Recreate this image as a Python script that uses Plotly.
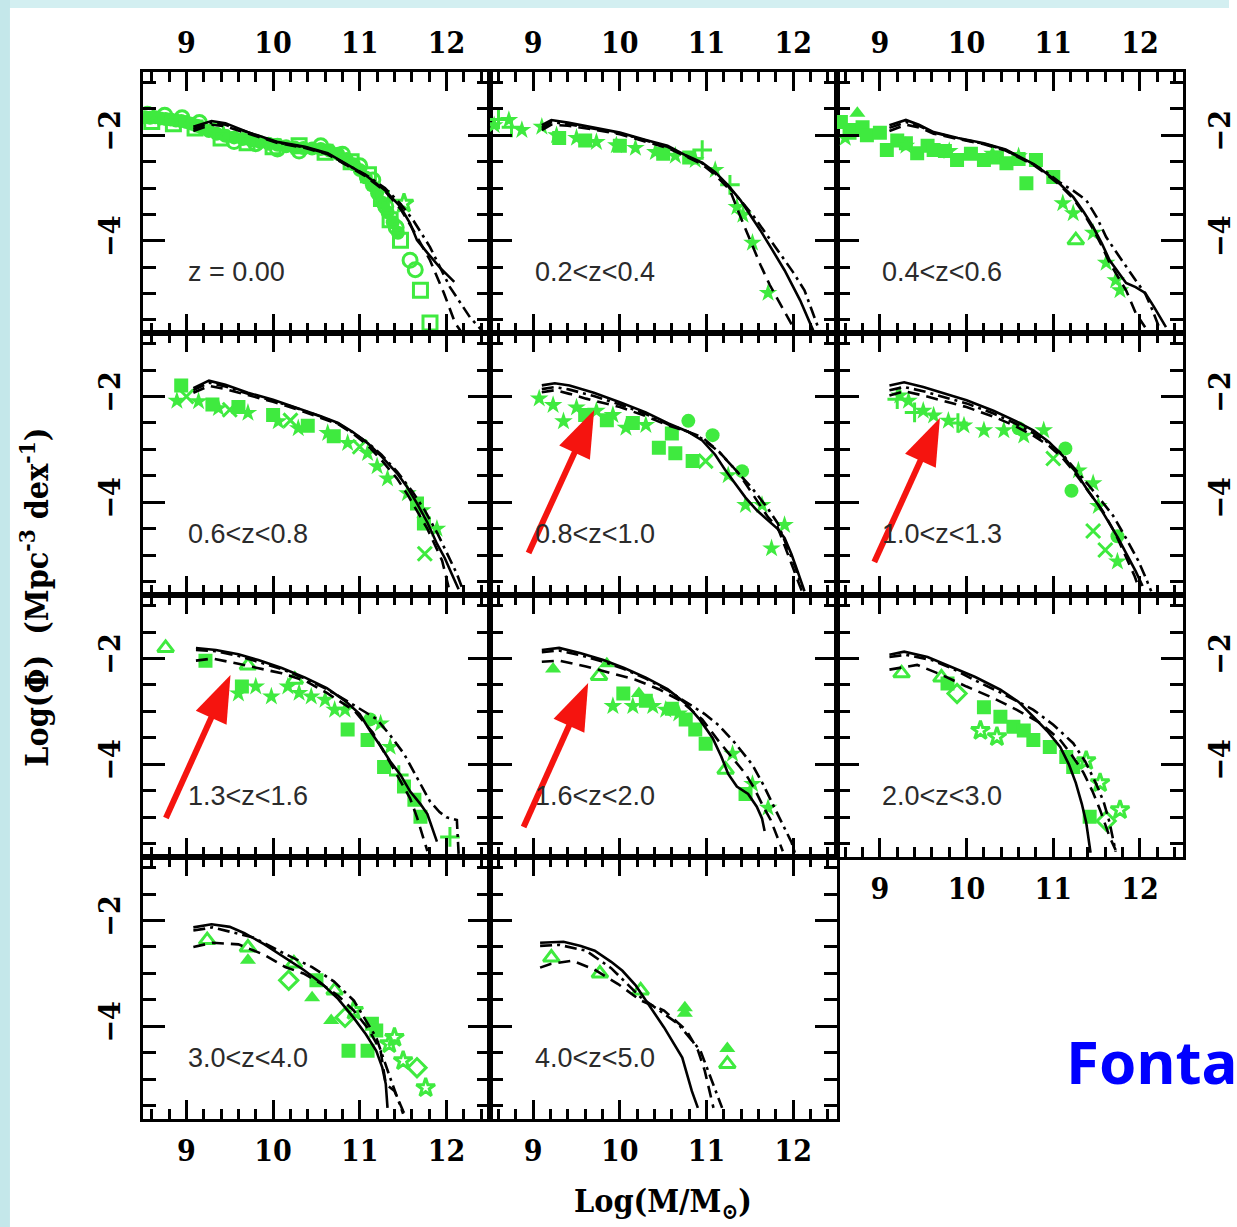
import math
import plotly.graph_objects as go

W, H = 1237, 1227

# ---------------- axis settings ----------------
X_RANGE = [8.5, 12.5]
Y_RANGE = [-5.75, -0.8]
X_TICK0, X_DTICK, X_MINOR = 9, 1, 0.2
Y_TICK0, Y_DTICK, Y_MINOR = 0, 2, 0.5

PANEL_LABELS = ["z = 0.00", "0.2<z<0.4", "0.4<z<0.6", "0.6<z<0.8", "0.8<z<1.0",
                "1.0<z<1.3", "1.3<z<1.6", "1.6<z<2.0", "2.0<z<3.0", "3.0<z<4.0",
                "4.0<z<5.0"]
LABEL_POS = (9.0, -4.6)

# ---------------- data: model curves (x = log M, y = log Phi) ----------------
P1_SOLID = ([9.08, 9.29, 9.45, 9.71, 10.06, 10.37, 10.63, 10.83, 11.06, 11.29, 11.47, 11.58, 11.66, 11.78, 11.93, 12.09],
            [-1.84, -1.73, -1.77, -1.94, -2.13, -2.22, -2.34, -2.53, -2.75, -3.04, -3.36, -3.67, -3.99, -4.23, -4.52, -4.78])
P1_DASH = ([9.08, 9.29, 9.45, 9.71, 10.06, 10.37, 10.63, 10.83, 11.06, 11.29, 11.47, 11.6, 11.81, 11.97, 12.1, 12.18],
           [-1.92, -1.8, -1.83, -1.97, -2.15, -2.24, -2.36, -2.55, -2.77, -3.06, -3.4, -3.75, -4.37, -4.99, -5.56, -5.75])
P1_DDOT = ([9.08, 9.29, 9.45, 9.71, 10.06, 10.37, 10.63, 10.83, 11.06, 11.29, 11.47, 11.62, 11.81, 12.04, 12.27, 12.42],
           [-1.88, -1.76, -1.8, -1.95, -2.14, -2.23, -2.35, -2.54, -2.74, -3.0, -3.3, -3.62, -4.12, -4.88, -5.45, -5.72])

P2_SOLID = ([9.1, 9.21, 9.4, 9.73, 10.0, 10.3, 10.55, 10.76, 10.95, 11.1, 11.25, 11.39, 11.5, 11.62, 11.75, 11.9, 12.08, 12.23],
            [-1.81, -1.71, -1.76, -1.86, -1.95, -2.09, -2.2, -2.38, -2.52, -2.7, -2.95, -3.23, -3.5, -3.8, -4.15, -4.56, -5.13, -5.7])
P2_DASH = ([9.1, 9.21, 9.4, 9.73, 10.0, 10.3, 10.55, 10.76, 10.95, 11.1, 11.27, 11.38, 11.5, 11.62, 11.73, 11.85, 11.96, 12.02],
           [-1.9, -1.8, -1.82, -1.9, -1.98, -2.12, -2.24, -2.4, -2.55, -2.75, -3.04, -3.5, -3.99, -4.45, -4.84, -5.2, -5.5, -5.7])
P2_DDOT = ([9.1, 9.21, 9.4, 9.73, 10.0, 10.3, 10.55, 10.76, 10.95, 11.1, 11.25, 11.4, 11.55, 11.7, 11.85, 12.0, 12.13, 12.3],
           [-1.86, -1.75, -1.79, -1.88, -1.96, -2.1, -2.22, -2.39, -2.53, -2.72, -2.97, -3.25, -3.55, -3.9, -4.25, -4.6, -4.94, -5.7])

P3_SOLID = ([9.11, 9.3, 9.45, 9.62, 9.9, 10.2, 10.45, 10.62, 10.78, 10.92, 11.08, 11.23, 11.35, 11.46, 11.56, 11.65, 11.75, 11.84, 11.95, 12.06, 12.16, 12.26, 12.3],
            [-1.81, -1.71, -1.8, -1.94, -2.05, -2.15, -2.27, -2.41, -2.55, -2.72, -2.93, -3.17, -3.45, -3.74, -4.05, -4.37, -4.6, -4.8, -4.88, -4.99, -5.25, -5.51, -5.64])
P3_DASH = ([9.11, 9.3, 9.45, 9.62, 9.9, 10.2, 10.45, 10.62, 10.78, 10.92, 11.08, 11.23, 11.35, 11.46, 11.56, 11.65, 11.75, 11.84, 11.95, 12.06],
           [-1.92, -1.8, -1.85, -1.97, -2.07, -2.17, -2.29, -2.43, -2.57, -2.74, -2.95, -3.2, -3.48, -3.78, -4.1, -4.42, -4.68, -4.94, -5.37, -5.64])
P3_DDOT = ([9.11, 9.3, 9.45, 9.62, 9.9, 10.2, 10.45, 10.62, 10.78, 10.92, 11.08, 11.23, 11.38, 11.5, 11.61, 11.72, 11.84, 11.95, 12.06, 12.14, 12.22],
           [-1.86, -1.75, -1.82, -1.95, -2.06, -2.16, -2.28, -2.42, -2.56, -2.7, -2.9, -3.05, -3.23, -3.55, -3.93, -4.2, -4.5, -4.75, -5.0, -5.3, -5.64])

P4_SOLID = ([9.08, 9.26, 9.45, 9.71, 10.0, 10.29, 10.55, 10.75, 10.92, 11.09, 11.25, 11.43, 11.55, 11.66, 11.78, 11.89, 11.98, 12.06, 12.14],
            [-1.84, -1.7, -1.78, -1.93, -2.06, -2.22, -2.37, -2.5, -2.67, -2.88, -3.13, -3.45, -3.72, -4.02, -4.38, -4.78, -5.05, -5.35, -5.64])
P4_DASH = ([9.08, 9.26, 9.45, 9.71, 10.0, 10.29, 10.55, 10.75, 10.92, 11.09, 11.25, 11.43, 11.55, 11.66, 11.78, 11.88, 11.95, 12.03],
           [-1.93, -1.8, -1.86, -1.98, -2.1, -2.25, -2.4, -2.52, -2.7, -2.92, -3.2, -3.55, -3.85, -4.15, -4.5, -4.85, -5.1, -5.64])
P4_DDOT = ([9.08, 9.26, 9.45, 9.71, 10.0, 10.29, 10.55, 10.75, 10.92, 11.09, 11.25, 11.43, 11.6, 11.75, 11.9, 12.02, 12.12, 12.2],
           [-1.88, -1.74, -1.81, -1.95, -2.08, -2.23, -2.38, -2.51, -2.68, -2.87, -3.1, -3.42, -3.78, -4.15, -4.6, -5.0, -5.35, -5.7])

P5_SOLID = ([9.1, 9.25, 9.42, 9.7, 10.0, 10.3, 10.56, 10.78, 10.95, 11.1, 11.22, 11.34, 11.45, 11.58, 11.71, 11.82, 11.9, 11.98, 12.05, 12.13],
            [-1.79, -1.75, -1.79, -1.93, -2.11, -2.3, -2.51, -2.66, -2.83, -3.1, -3.4, -3.66, -3.91, -4.15, -4.35, -4.5, -4.67, -4.98, -5.3, -5.68])
P5_DASH = ([9.1, 9.25, 9.42, 9.61, 10.0, 10.3, 10.56, 10.78, 10.95, 11.15, 11.37, 11.55, 11.71, 11.82, 11.9, 11.98, 12.1],
           [-1.92, -1.88, -1.95, -2.04, -2.2, -2.37, -2.55, -2.66, -2.77, -3.05, -3.45, -3.9, -4.28, -4.47, -4.8, -5.16, -5.68])
P5_DDOT = ([9.1, 9.25, 9.42, 9.7, 10.0, 10.3, 10.56, 10.78, 10.95, 11.14, 11.33, 11.53, 11.7, 11.82, 11.92, 12.02, 12.1],
           [-1.86, -1.82, -1.87, -1.99, -2.15, -2.33, -2.53, -2.66, -2.8, -3.04, -3.38, -3.74, -4.1, -4.39, -4.8, -5.2, -5.6])

P6_SOLID = ([9.11, 9.28, 9.5, 9.74, 10.0, 10.31, 10.55, 10.77, 10.95, 11.11, 11.27, 11.4, 11.52, 11.63, 11.75, 11.86, 11.95, 12.03],
            [-1.79, -1.73, -1.82, -1.94, -2.07, -2.27, -2.45, -2.64, -2.86, -3.12, -3.45, -3.78, -4.05, -4.35, -4.68, -5.02, -5.3, -5.58])
P6_DASH = ([9.11, 9.28, 9.5, 9.74, 10.0, 10.31, 10.55, 10.77, 10.95, 11.1, 11.23, 11.4, 11.57, 11.72, 11.86, 11.94, 12.0],
           [-1.98, -1.9, -1.98, -2.09, -2.2, -2.38, -2.55, -2.74, -2.93, -3.15, -3.4, -3.78, -4.16, -4.6, -5.1, -5.4, -5.68])
P6_DDOT = ([9.11, 9.28, 9.5, 9.74, 10.0, 10.31, 10.55, 10.77, 10.95, 11.11, 11.27, 11.42, 11.56, 11.69, 11.83, 11.98, 12.06, 12.13],
           [-1.88, -1.82, -1.9, -2.01, -2.13, -2.32, -2.5, -2.69, -2.88, -3.1, -3.4, -3.7, -3.98, -4.25, -4.65, -5.1, -5.4, -5.68])

P7_SOLID = ([9.11, 9.34, 9.6, 9.83, 10.1, 10.37, 10.62, 10.83, 11.0, 11.12, 11.25, 11.35, 11.47, 11.58, 11.7, 11.78, 11.89],
            [-1.8, -1.84, -1.92, -2.03, -2.18, -2.36, -2.56, -2.8, -3.05, -3.37, -3.68, -3.94, -4.2, -4.51, -4.75, -4.94, -5.46])
P7_DASH = ([9.11, 9.3, 9.6, 9.9, 10.1, 10.37, 10.62, 10.94, 11.15, 11.32, 11.45, 11.58, 11.66, 11.74, 11.78],
           [-2.04, -2.0, -2.1, -2.2, -2.28, -2.42, -2.65, -2.99, -3.4, -3.88, -4.25, -4.64, -5.0, -5.4, -5.64])
P7_DDOT = ([9.11, 9.34, 9.6, 9.83, 10.1, 10.37, 10.62, 10.85, 11.03, 11.2, 11.35, 11.51, 11.66, 11.81, 11.92, 12.0, 12.12, 12.14],
           [-1.84, -1.86, -1.95, -2.06, -2.2, -2.38, -2.58, -2.8, -2.98, -3.15, -3.45, -3.8, -4.25, -4.7, -4.9, -5.0, -5.05, -5.69])

P8_SOLID = ([9.1, 9.3, 9.55, 9.81, 10.05, 10.3, 10.55, 10.76, 10.92, 11.07, 11.17, 11.25, 11.35, 11.48, 11.58, 11.64, 11.67],
            [-1.84, -1.8, -1.9, -2.03, -2.18, -2.36, -2.58, -2.85, -3.15, -3.5, -3.85, -4.18, -4.42, -4.56, -4.8, -5.02, -5.26])
P8_DASH = ([9.1, 9.3, 9.61, 9.9, 10.18, 10.45, 10.7, 10.95, 11.14, 11.3, 11.45, 11.55, 11.64, 11.74, 11.82, 11.88],
           [-2.06, -2.04, -2.15, -2.27, -2.4, -2.58, -2.8, -3.15, -3.56, -3.88, -4.18, -4.45, -4.75, -5.05, -5.4, -5.64])
P8_DDOT = ([9.1, 9.3, 9.55, 9.81, 10.05, 10.3, 10.55, 10.8, 10.98, 11.14, 11.33, 11.53, 11.66, 11.79, 11.9, 11.98, 12.03],
           [-1.88, -1.85, -1.94, -2.06, -2.2, -2.38, -2.6, -2.86, -3.05, -3.26, -3.6, -4.01, -4.4, -4.84, -5.2, -5.47, -5.73])

P9_SOLID = ([9.11, 9.28, 9.55, 9.82, 10.1, 10.39, 10.6, 10.77, 10.93, 11.08, 11.18, 11.26, 11.33, 11.38, 11.43],
            [-1.93, -1.87, -1.97, -2.15, -2.35, -2.59, -2.82, -3.1, -3.37, -3.67, -4.0, -4.35, -4.75, -5.1, -5.67])
P9_DASH = ([9.11, 9.43, 9.7, 10.0, 10.3, 10.58, 10.85, 11.08, 11.22, 11.35, 11.45, 11.54, 11.65, 11.72],
           [-2.21, -2.12, -2.3, -2.53, -2.74, -2.97, -3.22, -3.54, -3.84, -4.16, -4.5, -4.86, -5.37, -5.62])
P9_DDOT = ([9.11, 9.3, 9.6, 9.85, 10.08, 10.4, 10.77, 11.0, 11.23, 11.37, 11.49, 11.58, 11.65, 11.72],
           [-1.97, -1.93, -2.03, -2.2, -2.4, -2.65, -2.97, -3.25, -3.6, -3.95, -4.35, -4.7, -5.1, -5.65])

P10_SOLID = ([9.08, 9.29, 9.5, 9.67, 9.9, 10.14, 10.35, 10.56, 10.75, 10.93, 11.07, 11.19, 11.26, 11.3, 11.32],
             [-2.13, -2.07, -2.12, -2.24, -2.45, -2.7, -2.93, -3.19, -3.48, -3.84, -4.15, -4.46, -4.78, -5.09, -5.54])
P10_DASH = ([9.08, 9.3, 9.6, 9.9, 10.14, 10.35, 10.56, 10.75, 10.93, 11.1, 11.24, 11.3, 11.4, 11.5, 11.55],
            [-2.5, -2.42, -2.45, -2.65, -2.88, -3.0, -3.2, -3.42, -3.7, -4.05, -4.46, -5.09, -5.22, -5.6, -5.75])
P10_DDOT = ([9.08, 9.3, 9.77, 10.1, 10.45, 10.7, 10.93, 11.19, 11.35, 11.5],
            [-2.19, -2.13, -2.32, -2.6, -2.88, -3.15, -3.51, -4.21, -4.97, -5.65])

P11_SOLID = ([9.08, 9.35, 9.55, 9.71, 9.9, 10.03, 10.18, 10.3, 10.51, 10.72, 10.83, 10.9],
             [-2.42, -2.4, -2.48, -2.57, -2.78, -2.95, -3.22, -3.51, -4.02, -4.59, -5.22, -5.54])
P11_DASH = ([9.08, 9.2, 9.45, 9.7, 9.98, 10.24, 10.51, 10.77, 10.9, 10.98, 11.08],
            [-2.89, -2.82, -2.76, -2.92, -3.2, -3.51, -3.7, -4.08, -4.45, -4.84, -5.54])
P11_DDOT = ([9.08, 9.3, 9.61, 9.9, 10.24, 10.5, 10.67, 10.93, 11.08, 11.18],
            [-2.48, -2.46, -2.57, -2.9, -3.45, -3.75, -3.95, -4.46, -5.09, -5.54])

# ---------------- data: observed points (symbol, x, y) ----------------
P1_PTS = [
    ("circle", [8.52, 8.58, 8.64, 8.7, 8.76, 8.82, 8.88, 8.94, 9.0, 9.06, 9.12, 9.18, 9.26, 9.35, 9.45, 9.55, 9.65, 9.75, 9.85, 9.95, 10.05, 10.15, 10.25, 10.35, 10.45, 10.55, 10.65, 10.75, 10.85, 10.93, 11.0, 11.07, 11.14, 11.2, 11.26, 11.32, 11.38, 11.44],
     [-1.66, -1.67, -1.66, -1.68, -1.69, -1.7, -1.72, -1.73, -1.75, -1.78, -1.82, -1.86, -1.92, -1.97, -2.01, -2.04, -2.07, -2.1, -2.13, -2.16, -2.18, -2.21, -2.23, -2.24, -2.25, -2.26, -2.29, -2.35, -2.45, -2.55, -2.66, -2.8, -2.95, -3.1, -3.28, -3.46, -3.65, -3.85]),
    ("circle-open", [8.55, 8.75, 8.95, 9.15, 9.35, 9.55, 9.8, 10.05, 10.3, 10.55, 10.8, 11.0, 11.15, 11.3, 11.42, 11.58, 11.64],
     [-1.6, -1.62, -1.67, -1.76, -1.9, -2.12, -2.16, -2.26, -2.3, -2.2, -2.36, -2.58, -2.85, -3.35, -3.75, -4.37, -4.55]),
    ("square-open", [8.6, 8.85, 9.1, 9.4, 9.7, 10.0, 10.3, 10.6, 10.9, 11.1, 11.25, 11.35, 11.47, 11.7, 11.81],
     [-1.74, -1.78, -1.86, -2.05, -2.14, -2.22, -2.2, -2.32, -2.5, -2.75, -3.2, -3.6, -3.99, -4.94, -5.56]),
    ("star-open", [11.51], [-3.29]),
]
P2_PTS = [
    ("star", [8.55, 8.72, 8.87, 9.1, 9.27, 9.5, 9.73, 9.96, 10.18, 10.41, 10.64, 10.87, 11.1, 11.35, 11.42, 11.53, 11.71],
     [-1.81, -1.71, -1.9, -1.84, -2.0, -2.05, -2.13, -2.19, -2.24, -2.32, -2.39, -2.47, -2.66, -3.36, -3.51, -4.04, -4.99]),
    ("cross-thin-open", [8.6, 8.75, 10.95, 11.27], [-1.7, -1.85, -2.28, -2.94]),
    ("square", [9.3, 9.6, 10.0, 10.5, 10.8], [-2.05, -2.1, -2.2, -2.35, -2.42]),
]
P3_PTS = [
    ("square", [8.55, 8.65, 8.7, 8.8, 8.85, 9.0, 9.08, 9.2, 9.3, 9.43, 9.55, 9.62, 9.75, 9.89, 10.05, 10.2, 10.35, 10.46, 10.6, 10.69, 10.8, 11.0],
     [-1.75, -1.95, -1.9, -1.85, -2.0, -1.95, -2.28, -2.1, -2.15, -2.34, -2.2, -2.28, -2.3, -2.47, -2.35, -2.47, -2.42, -2.53, -2.45, -2.91, -2.47, -2.79]),
    ("triangle-up", [8.74], [-1.58]),
    ("star", [8.6, 9.3, 9.8, 10.3, 10.6, 11.11, 11.23, 11.46, 11.61, 11.72, 11.77],
     [-2.05, -2.2, -2.3, -2.35, -2.4, -3.29, -3.48, -3.85, -4.42, -4.75, -4.94]),
    ("triangle-up-open", [11.26], [-3.99]),
]
P4_PTS = [
    ("star", [8.89, 9.14, 9.37, 9.71, 10.06, 10.29, 10.63, 10.86, 11.09, 11.2, 11.32, 11.55, 11.72, 11.89],
     [-2.08, -2.09, -2.22, -2.31, -2.47, -2.6, -2.69, -2.88, -3.07, -3.32, -3.55, -3.83, -4.15, -4.5]),
    ("square", [8.94, 9.3, 9.6, 10.0, 10.4, 10.7, 11.66, 11.74], [-1.79, -2.15, -2.2, -2.35, -2.55, -2.75, -4.02, -4.4]),
    ("x-thin-open", [9.0, 9.5, 10.2, 11.0, 11.75], [-2.0, -2.25, -2.45, -2.95, -4.97]),
]
P5_PTS = [
    ("star", [9.07, 9.23, 9.35, 9.5, 9.73, 9.92, 10.07, 10.3, 11.25, 11.45, 11.64, 11.9, 11.75],
     [-2.04, -2.16, -2.47, -2.21, -2.27, -2.35, -2.59, -2.54, -3.49, -4.05, -4.05, -4.43, -4.87]),
    ("square", [9.6, 9.85, 10.15, 10.45, 10.64, 10.84, 10.6], [-2.35, -2.45, -2.5, -2.97, -3.07, -3.22, -2.7]),
    ("circle", [10.79, 11.07, 11.41], [-2.46, -2.73, -3.41]),
    ("x-thin-open", [10.99], [-3.22]),
]
P6_PTS = [
    ("star", [9.23, 9.33, 9.5, 9.62, 9.79, 9.97, 10.2, 10.43, 10.66, 10.89, 11.29, 11.46, 11.52, 11.74],
     [-1.98, -2.08, -2.27, -2.36, -2.46, -2.55, -2.64, -2.64, -2.74, -2.64, -3.4, -3.64, -4.07, -5.12]),
    ("cross-thin-open", [9.2, 9.4, 9.9], [-2.05, -2.3, -2.5]),
    ("circle", [11.14, 11.21, 11.74, 10.6], [-2.98, -3.78, -4.64, -2.6]),
    ("x-thin-open", [11.0, 11.46, 11.6], [-3.17, -4.54, -4.9]),
]
P7_PTS = [
    ("triangle-up-open", [8.76, 9.71, 10.25], [-1.8, -2.13, -2.4]),
    ("square", [9.22, 9.64, 10.86, 11.09, 11.28, 11.51, 11.63, 11.7], [-2.04, -2.53, -3.34, -3.54, -4.05, -4.42, -4.67, -4.99]),
    ("star", [9.6, 9.8, 9.98, 10.17, 10.3, 10.44, 10.6, 10.71, 10.83, 11.24, 11.35],
     [-2.66, -2.53, -2.72, -2.53, -2.65, -2.72, -2.78, -2.97, -2.97, -3.23, -3.67]),
    ("circle", [11.12], [-3.15]),
    ("cross-thin-open", [12.04, 11.45], [-5.37, -4.2]),
]
P8_PTS = [
    ("triangle-up", [9.23, 10.22, 9.85], [-2.2, -2.66, -2.1]),
    ("triangle-up-open", [9.76, 11.22], [-2.33, -4.1]),
    ("star", [9.92, 10.15, 10.38, 10.53, 10.68, 11.3, 11.53, 11.71], [-2.9, -2.9, -2.9, -2.97, -3.04, -3.8, -4.37, -4.82]),
    ("square", [10.04, 10.3, 10.6, 10.76, 10.87, 10.99, 11.45], [-2.66, -2.8, -2.95, -3.15, -3.34, -3.61, -4.56]),
]
P9_PTS = [
    ("triangle-up-open", [9.25, 9.71], [-2.28, -2.36]),
    ("diamond-open", [9.89, 11.61], [-2.66, -5.07]),
    ("square", [9.78, 10.2, 10.39, 10.54, 10.66, 10.77, 10.96, 11.15, 11.23, 11.42],
     [-2.47, -2.92, -3.1, -3.29, -3.36, -3.54, -3.67, -3.86, -4.05, -4.99]),
    ("star-open", [10.16, 10.35, 11.38, 11.54, 11.77], [-3.36, -3.48, -3.93, -4.35, -4.86]),
]
P10_PTS = [
    ("triangle-up-open", [9.24, 9.71, 10.24, 10.71], [-2.37, -2.51, -2.81, -3.32]),
    ("triangle-up", [9.71, 10.45, 10.67], [-2.75, -3.46, -3.89]),
    ("diamond-open", [10.18, 10.83, 11.66], [-3.13, -3.83, -4.78]),
    ("square", [10.5, 10.87, 11.09, 11.14, 11.19], [-3.13, -4.46, -4.46, -3.95, -4.08]),
    ("star-open", [10.93, 11.34, 11.4, 11.5, 11.76], [-3.7, -4.33, -4.21, -4.65, -5.16]),
]
P11_PTS = [
    ("triangle-up-open", [9.21, 9.77, 10.24, 11.24], [-2.7, -3.0, -3.32, -4.71]),
    ("triangle-up", [10.75, 10.75, 11.24], [-3.65, -3.75, -4.42]),
]

PANELS = [
    (P1_SOLID, P1_DASH, P1_DDOT, P1_PTS), (P2_SOLID, P2_DASH, P2_DDOT, P2_PTS),
    (P3_SOLID, P3_DASH, P3_DDOT, P3_PTS), (P4_SOLID, P4_DASH, P4_DDOT, P4_PTS),
    (P5_SOLID, P5_DASH, P5_DDOT, P5_PTS), (P6_SOLID, P6_DASH, P6_DDOT, P6_PTS),
    (P7_SOLID, P7_DASH, P7_DDOT, P7_PTS), (P8_SOLID, P8_DASH, P8_DDOT, P8_PTS),
    (P9_SOLID, P9_DASH, P9_DDOT, P9_PTS), (P10_SOLID, P10_DASH, P10_DDOT, P10_PTS),
    (P11_SOLID, P11_DASH, P11_DDOT, P11_PTS),
]

# ---------------- layout geometry (pixels) ----------------
COL_L = [144, 493, 842]
COL_R = [493, 842, 1191]
ROW_T = [72, 333, 595, 857]
ROW_B = [333, 595, 857, 1119]

GREEN = "#3fea3f"
SERIF = "DejaVu Serif Condensed, DejaVu Serif"
TICKFONT = dict(family=SERIF, size=30, color="black", weight="bold")

fig = go.Figure()
layout = dict(width=W, height=H, margin=dict(l=0, r=0, t=0, b=0),
              paper_bgcolor="white", plot_bgcolor="rgba(0,0,0,0)", showlegend=False)
annotations = []
shapes = []

for i, (solid, dash, ddot, pts) in enumerate(PANELS):
    n = i + 1
    r, c = divmod(i, 3)
    xa = "x" if n == 1 else f"x{n}"
    ya = "y" if n == 1 else f"y{n}"
    for sym, xs, ys in pts:
        is_open = sym.endswith("-open")
        fig.add_trace(go.Scatter(
            x=xs, y=ys, mode="markers", xaxis=xa, yaxis=ya, cliponaxis=True,
            marker=dict(symbol=sym, size=14, color=GREEN,
                        line=dict(color=GREEN, width=3 if is_open else 0))))
    for (xs, ys), dsh in ((solid, "solid"), (dash, "12px,7px"), (ddot, "12px,5px,3px,5px")):
        fig.add_trace(go.Scatter(x=xs, y=ys, mode="lines", xaxis=xa, yaxis=ya,
                                 line=dict(color="black", width=2.6, dash=dsh)))

    x_labels = (r == 0) or (r == 3) or (r == 2 and c == 2)
    x_side = "top" if r == 0 else "bottom"
    y_labels = (c == 0) or (c == 2)
    y_side = "right" if c == 2 else "left"

    xdict = dict(domain=[COL_L[c] / W, COL_R[c] / W], anchor=ya, range=X_RANGE,
                 tickmode="linear", tick0=X_TICK0, dtick=X_DTICK,
                 ticks="inside", ticklen=19, tickwidth=3, tickcolor="black",
                 showline=True, linewidth=3, linecolor="black", mirror="allticks",
                 showgrid=False, zeroline=False, showticklabels=x_labels, side=x_side,
                 tickfont=TICKFONT, ticklabelstandoff=(4 if r == 0 else 3),
                 minor=dict(tickmode="linear", tick0=X_TICK0, dtick=X_MINOR, ticks="inside",
                            ticklen=10, tickwidth=2.5, tickcolor="black", showgrid=False))
    ydict = dict(domain=[1 - ROW_B[r] / H, 1 - ROW_T[r] / H], anchor=xa, range=Y_RANGE,
                 tickmode="linear", tick0=Y_TICK0, dtick=Y_DTICK,
                 ticks="inside", ticklen=22, tickwidth=3, tickcolor="black",
                 showline=True, linewidth=3, linecolor="black", mirror="allticks",
                 showgrid=False, zeroline=False, showticklabels=y_labels, side=y_side,
                 tickfont=TICKFONT, tickangle=-90, ticklabelstandoff=8,
                 minor=dict(tickmode="linear", tick0=Y_TICK0, dtick=Y_MINOR, ticks="inside",
                            ticklen=13, tickwidth=2.5, tickcolor="black", showgrid=False))
    layout["xaxis" if n == 1 else f"xaxis{n}"] = xdict
    layout["yaxis" if n == 1 else f"yaxis{n}"] = ydict

    annotations.append(dict(x=LABEL_POS[0], y=LABEL_POS[1], xref=xa, yref=ya,
                            text=PANEL_LABELS[i], showarrow=False, xanchor="left", yanchor="middle",
                            font=dict(family="Liberation Sans, Arial", size=27, color="#2b2b2b")))

# axis titles
annotations.append(dict(x=35 / W, y=1 - 597 / H, xref="paper", yref="paper", textangle=-90,
                        xanchor="center", yanchor="middle",
                        text="Log(Φ)  (Mpc<sup>-3</sup> dex<sup>-1</sup>)", showarrow=False,
                        font=dict(family=SERIF, size=32, color="black", weight="bold")))
annotations.append(dict(x=667 / W, y=1 - 1203 / H, xref="paper", yref="paper",
                        xanchor="center", yanchor="middle",
                        text="Log(M/M<sub>⊙</sub>)", showarrow=False,
                        font=dict(family=SERIF, size=32, color="black", weight="bold")))
annotations.append(dict(x=1071 / W, y=1 - 1061 / H, xref="paper", yref="paper", xanchor="left",
                        yanchor="middle", text="Fonta", showarrow=False,
                        font=dict(family="Noto Sans", size=60, color="#0000ff", weight="bold")))

# page background strips
shapes.append(dict(type="rect", xref="paper", yref="paper", x0=0, x1=1, y0=1 - 8 / H, y1=1,
                   fillcolor="#d3eff1", line=dict(width=0), layer="below"))
shapes.append(dict(type="rect", xref="paper", yref="paper", x0=0, x1=10 / W, y0=0, y1=1,
                   fillcolor="#c4e7ea", line=dict(width=0), layer="below"))

# red arrows (tail px, tip px)
ARROWS = [((532, 553), (598, 410)), ((880, 562), (946, 418)),
          ((167, 818), (232, 675)), ((527, 827), (592, 683))]


def P(x, y):
    return x / W, 1 - y / H


for (tx, ty), (hx, hy) in ARROWS:
    dx, dy = hx - tx, hy - ty
    L = math.hypot(dx, dy)
    ux, uy = dx / L, dy / L
    hl, hw = 47, 17
    bx, by = hx - ux * hl, hy - uy * hl
    nx, ny = -uy, ux
    x0, y0 = P(tx, ty)
    x1, y1 = P(bx + ux * 4, by + uy * 4)
    shapes.append(dict(type="line", xref="paper", yref="paper", x0=x0, y0=y0, x1=x1, y1=y1,
                       line=dict(color="#f5140f", width=6)))
    a = P(hx, hy)
    b = P(bx + nx * hw, by + ny * hw)
    cpt = P(bx - nx * hw, by - ny * hw)
    shapes.append(dict(type="path", xref="paper", yref="paper",
                       path=f"M {a[0]},{a[1]} L {b[0]},{b[1]} L {cpt[0]},{cpt[1]} Z",
                       fillcolor="#f5140f", line=dict(width=0)))

layout["annotations"] = annotations
layout["shapes"] = shapes
fig.update_layout(**layout)
fig.write_html("out.html")
